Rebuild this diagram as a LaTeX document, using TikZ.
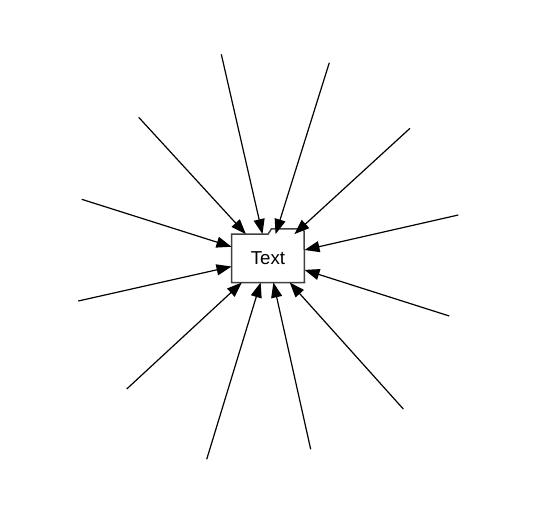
\documentclass[tikz,border=0pt]{standalone}
\usepackage{fontspec}
\setmainfont{Liberation Sans}
\usetikzlibrary{
  arrows.meta
}
\tikzset{
  folder/.style={
    draw=none,
    minimum width=72.6bp,
    minimum height=48bp,
    inner sep=0pt,
    font=\fontsize{18.7bp}{22bp}\selectfont
  },
  outline/.style={
    line width=1.5bp,
    draw=black!75,
    line join=miter
  },
  flow/.style={
    -{Triangle[length=15bp,width=11bp]},
    line width=1.2bp,
    draw=black
  }
}

\begin{document}
\begin{tikzpicture}[x=1bp, y=-1bp]
  \useasboundingbox (0,0) rectangle (537,515);
  \node[folder] (t) at (268,258.3) {Text};
  \draw[outline] (t.south west) -- (t.north west) -- ++(36.6,0) -- ++(3.4,-5.3)
    -- ++(30.6,0) -- ++(2,2.5) -- (t.south east) -- cycle;
  \coordinate (a) at (221.3,54.3);
  \coordinate (b) at (329.3,62.7);
  \coordinate (c) at (138.7,117.3);
  \coordinate (d) at (410,128.3);
  \coordinate (e) at (81.7,199.3);
  \coordinate (f) at (458.3,215);
  \coordinate (g) at (78.3,301);
  \coordinate (h) at (449.3,316);
  \coordinate (i) at (126.7,389);
  \coordinate (j) at (206.7,459.3);
  \coordinate (k) at (310.7,449.3);
  \coordinate (l) at (403.3,409);
  \draw[flow] (a) -- (t);
  \draw[flow] (b) -- (t);
  \draw[flow] (c) -- (t);
  \draw[flow] (d) -- (t);
  \draw[flow] (e) -- (t);
  \draw[flow] (f) -- (t);
  \draw[flow] (g) -- (t);
  \draw[flow] (h) -- (t);
  \draw[flow] (i) -- (t);
  \draw[flow] (j) -- (t);
  \draw[flow] (k) -- (t);
  \draw[flow] (l) -- (t);
\end{tikzpicture}
\end{document}
